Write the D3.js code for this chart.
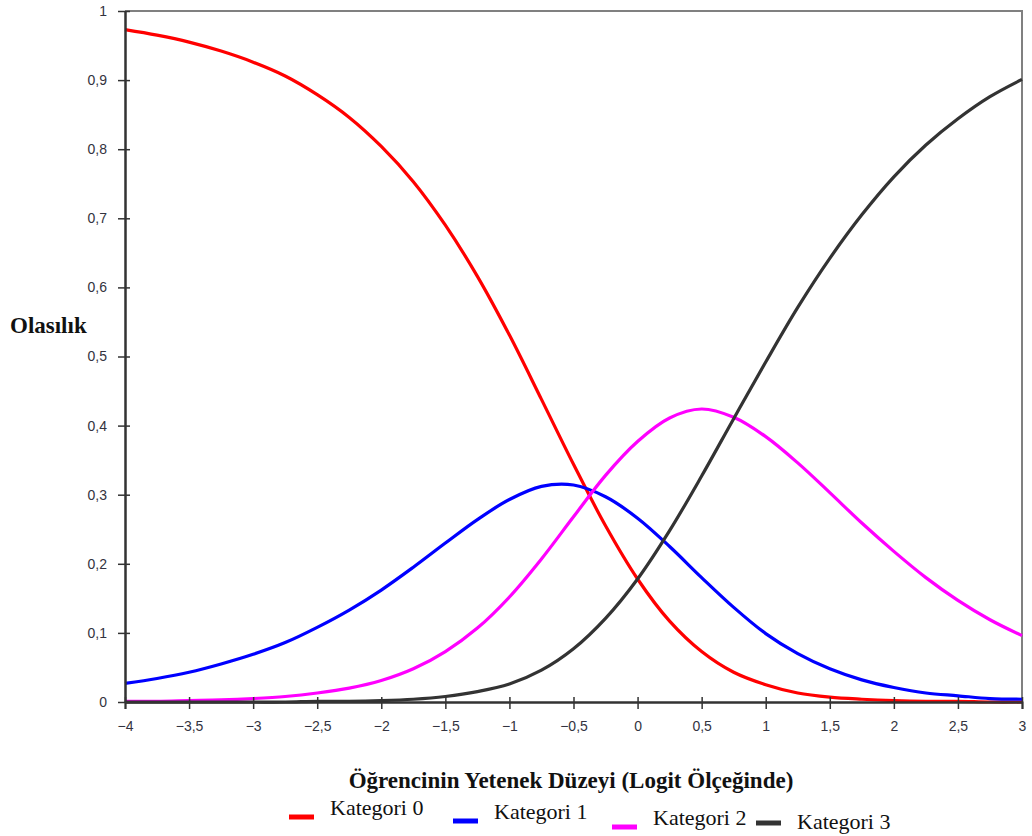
<!DOCTYPE html>
<html>
<head>
<meta charset="utf-8">
<script src="https://cdn.jsdelivr.net/npm/d3@7"></script>
<style>
  body { margin: 0; background: #fff; }
  .tick text { font-family: Arial, "Liberation Sans", sans-serif; font-size: 14px; fill: #333340; }
</style>
</head>
<body>
<div id="chart"></div>
<script>
// category response curves, every 0.25 logit
var theta = [-4, -3.75, -3.5, -3.25, -3, -2.75, -2.5, -2.25, -2, -1.75, -1.5, -1.25, -1, -0.75, -0.5, -0.25,
             0, 0.25, 0.5, 0.75, 1, 1.25, 1.5, 1.75, 2, 2.25, 2.5, 2.75, 3];
var kat0 = [0.973, 0.965, 0.955, 0.942, 0.926, 0.906, 0.879, 0.846, 0.804, 0.753, 0.690, 0.616, 0.531, 0.438, 0.344, 0.255,
            0.178, 0.117, 0.073, 0.043, 0.025, 0.013, 0.007, 0.004, 0.002, 0.001, 0.001, 0.000, 0.000];
var kat1 = [0.027, 0.034, 0.043, 0.055, 0.069, 0.086, 0.108, 0.133, 0.162, 0.195, 0.230, 0.264, 0.293, 0.312, 0.314, 0.297,
            0.266, 0.225, 0.180, 0.137, 0.099, 0.070, 0.048, 0.032, 0.021, 0.013, 0.009, 0.005, 0.004];
var kat2 = [0.001, 0.001, 0.002, 0.003, 0.005, 0.008, 0.013, 0.020, 0.031, 0.048, 0.073, 0.107, 0.152, 0.207, 0.268, 0.328,
            0.377, 0.411, 0.424, 0.412, 0.384, 0.346, 0.303, 0.259, 0.218, 0.180, 0.147, 0.119, 0.096];
var kat3 = [0.000, 0.000, 0.000, 0.000, 0.000, 0.000, 0.001, 0.001, 0.002, 0.004, 0.008, 0.015, 0.026, 0.046, 0.077, 0.121,
            0.178, 0.248, 0.327, 0.410, 0.492, 0.571, 0.642, 0.705, 0.760, 0.806, 0.844, 0.876, 0.901];
var seriesNames = ["Kategori 0", "Kategori 1", "Kategori 2", "Kategori 3"];
var seriesColors = ["#ff0000", "#0000ff", "#ff00ff", "#333333"];
var xTicks = [-4, -3.5, -3, -2.5, -2, -1.5, -1, -0.5, 0, 0.5, 1, 1.5, 2, 2.5, 3];
var yTicks = [0, 0.1, 0.2, 0.3, 0.4, 0.5, 0.6, 0.7, 0.8, 0.9, 1];

var svgWidth = 1032, svgHeight = 836;
var margin = {top: 11, right: 10, bottom: 134, left: 125};
var width = svgWidth - margin.left - margin.right;
var height = svgHeight - margin.top - margin.bottom;

var svg = d3.select("#chart").append("svg")
    .attr("width", svgWidth)
    .attr("height", svgHeight);

var g = svg.append("g")
    .attr("transform", `translate(${margin.left}, ${margin.top})`);

var xScale = d3.scaleLinear().domain([-4, 3]).range([0, width]);
var yScale = d3.scaleLinear().domain([0, 1]).range([height, 0]);

// comma as decimal mark
var fmt = function(d) { return d3.format("~g")(d).replace(".", ","); };

// frame: top and right in grey
g.append("path")
    .attr("d", `M0,0H${width}V${height}`)
    .attr("fill", "none")
    .attr("stroke", "#808080")
    .attr("stroke-width", 2);

// curves
var seriesData = [kat0, kat1, kat2, kat3];
var line = d3.line()
    .x((d, i) => xScale(theta[i]))
    .y(d => yScale(d))
    .curve(d3.curveCatmullRom.alpha(0.5));

g.selectAll(".curve")
    .data(seriesData)
    .enter()
    .append("path")
    .attr("class", "curve")
    .attr("d", d => line(d))
    .attr("fill", "none")
    .attr("stroke", (d, i) => seriesColors[i])
    .attr("stroke-width", 3.2);

// axes (outer ticks with labels, then short inner ticks)
g.append("g")
    .attr("transform", `translate(0, ${height})`)
    .call(d3.axisBottom(xScale).tickValues(xTicks).tickFormat(fmt).tickSize(7).tickPadding(12));
g.append("g")
    .attr("transform", `translate(0, ${height})`)
    .call(d3.axisBottom(xScale).tickValues(xTicks).tickFormat("").tickSize(-5).tickSizeOuter(0));

g.append("g")
    .call(d3.axisLeft(yScale).tickValues(yTicks).tickFormat(fmt).tickSize(7).tickPadding(11).tickSizeOuter(0));
g.append("g")
    .call(d3.axisLeft(yScale).tickValues(yTicks).tickFormat("").tickSize(-5).tickSizeOuter(0));

g.selectAll(".domain").attr("stroke", "#333").attr("stroke-width", 2);
g.selectAll(".tick line").attr("stroke", "#333").attr("stroke-width", 1.5);

// axis titles
svg.append("text")
    .attr("x", 10)
    .attr("y", 333)
    .attr("font-family", "'Liberation Serif', 'Times New Roman', serif")
    .attr("font-weight", "bold")
    .attr("font-size", "23px")
    .attr("fill", "#111")
    .text("Olasılık");

svg.append("text")
    .attr("x", 571)
    .attr("y", 788)
    .attr("text-anchor", "middle")
    .attr("font-family", "'Liberation Serif', 'Times New Roman', serif")
    .attr("font-weight", "bold")
    .attr("font-size", "23px")
    .attr("fill", "#111")
    .text("Öğrencinin Yetenek Düzeyi (Logit Ölçeğinde)");

// legend, each entry sits a little lower than the one before
var legendX = [289, 453, 612, 756];
var legendY = [815, 819, 825, 829];
var legend = svg.selectAll(".legend")
    .data(seriesNames)
    .enter()
    .append("g")
    .attr("class", "legend")
    .attr("transform", (d, i) => `translate(${legendX[i]}, ${legendY[i]})`);

legend.append("line")
    .attr("x1", 0).attr("x2", 25)
    .attr("y1", (d, i) => i === 3 ? -6 : 2)
    .attr("y2", (d, i) => i === 3 ? -6 : 2)
    .attr("stroke", (d, i) => seriesColors[i])
    .attr("stroke-width", 5);

legend.append("text")
    .attr("x", 41)
    .attr("y", 0)
    .attr("font-family", "'Liberation Serif', 'Times New Roman', serif")
    .attr("font-size", "22px")
    .attr("fill", "#111")
    .text(d => d);
</script>
</body>
</html>
